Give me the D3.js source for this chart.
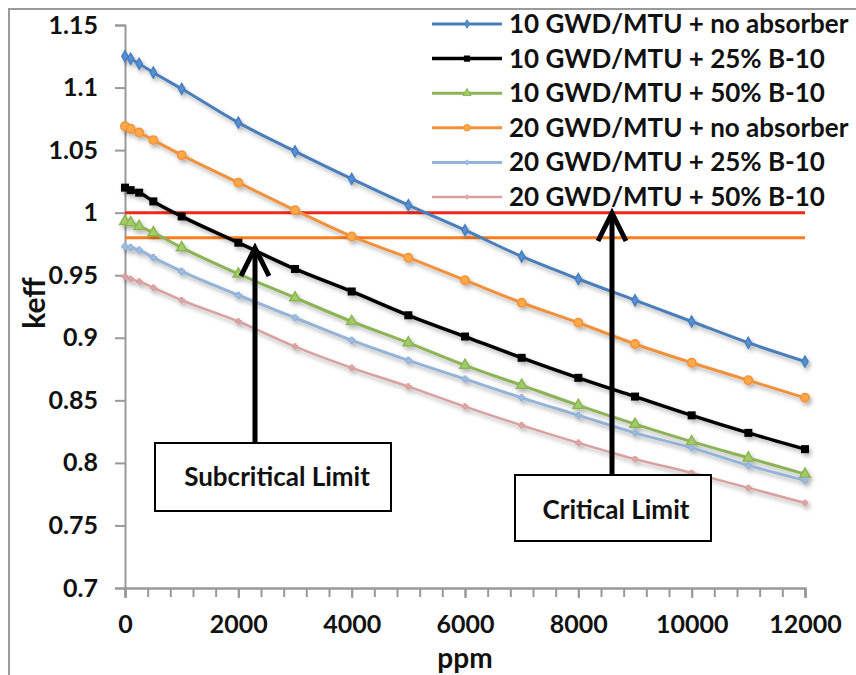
<!DOCTYPE html>
<html>
<head>
<meta charset="utf-8">
<script src="https://cdn.jsdelivr.net/npm/d3@7"></script>
<style>
  body { margin: 0; background: #fff; }
  svg text { font-family: Lato, "Open Sans", sans-serif; font-weight: 700; fill: #111; }
</style>
</head>
<body>
<div class="svg-container"></div>
<script>
// ppm values (x) shared by all series
const ppm = [0, 100, 250, 500, 1000, 2000, 3000, 4000, 5000, 6000, 7000, 8000, 9000, 10000, 11000, 12000];

// keff per series
const gwd10None = [1.125, 1.123, 1.119, 1.112, 1.099, 1.072, 1.049, 1.027, 1.006, 0.986, 0.965, 0.947, 0.930, 0.913, 0.896, 0.881];
const gwd10B25  = [1.020, 1.018, 1.016, 1.009, 0.997, 0.976, 0.955, 0.937, 0.918, 0.901, 0.884, 0.868, 0.853, 0.838, 0.824, 0.811];
const gwd10B50  = [0.993, 0.992, 0.989, 0.984, 0.972, 0.951, 0.932, 0.913, 0.896, 0.878, 0.862, 0.846, 0.831, 0.817, 0.804, 0.791];
const gwd20None = [1.069, 1.067, 1.064, 1.058, 1.046, 1.024, 1.002, 0.981, 0.964, 0.946, 0.928, 0.912, 0.895, 0.880, 0.866, 0.852];
const gwd20B25  = [0.973, 0.972, 0.970, 0.964, 0.953, 0.934, 0.916, 0.898, 0.882, 0.867, 0.852, 0.838, 0.824, 0.812, 0.798, 0.786];
const gwd20B50  = [0.949, 0.947, 0.945, 0.940, 0.930, 0.913, 0.893, 0.876, 0.861, 0.845, 0.830, 0.816, 0.803, 0.792, 0.780, 0.768];

const seriesNames = [
  '10 GWD/MTU + no absorber',
  '10 GWD/MTU + 25% B-10',
  '10 GWD/MTU + 50% B-10',
  '20 GWD/MTU + no absorber',
  '20 GWD/MTU + 25% B-10',
  '20 GWD/MTU + 50% B-10'
];

const yTicks = [0.7, 0.75, 0.8, 0.85, 0.9, 0.95, 1, 1.05, 1.1, 1.15];
const xTicks = [0, 2000, 4000, 6000, 8000, 10000, 12000];

// limit lines
const criticalLimit = 1.0;
const subcriticalLimit = 0.98;

const seriesValues = [gwd10None, gwd10B25, gwd10B50, gwd20None, gwd20B25, gwd20B50];
const colors = ['#4a7ebb', '#000000', '#8cb356', '#f0923c', '#95b3d7', '#d9a0a0'];
const widths = [3, 3.5, 3, 3, 3, 2.5];
const symbols = [d3.symbolDiamond, d3.symbolSquare, d3.symbolTriangle, d3.symbolCircle, d3.symbolCross, d3.symbolCross];
const symSizes = [34, 64, 48, 56, 18, 14];

const W = 856, H = 675;
const svg = d3.select('.svg-container').append('svg')
  .attr('width', W).attr('height', H);

const defs = svg.append('defs');
const shadow = defs.append('filter').attr('id', 'shadow')
  .attr('x', '-10%').attr('y', '-10%').attr('width', '130%').attr('height', '140%');
shadow.append('feDropShadow')
  .attr('dx', 2).attr('dy', 3).attr('stdDeviation', 2)
  .attr('flood-color', '#000').attr('flood-opacity', 0.3);

// chart area border
svg.append('path')
  .attr('d', 'M9,676 L9,9 L857,9')
  .attr('fill', 'none').attr('stroke', '#9a9a9a').attr('stroke-width', 2);

const xScale = d3.scaleLinear().domain([0, 12000]).range([125, 805]);
const yScale = d3.scaleLinear().domain([0.7, 1.15]).range([588, 25]);

// axes
const yAxis = d3.axisLeft(yScale).tickValues(yTicks).tickSize(10).tickPadding(17)
  .tickFormat(d => String(+d.toFixed(2)));
const yAxisDraw = svg.append('g')
  .attr('class', 'y axis')
  .attr('transform', 'translate(125,0)')
  .call(yAxis);
yAxisDraw.selectAll('text').style('font-size', '25px');

const xMinor = d3.range(0, 12001, 400);
svg.append('g')
  .attr('class', 'x axis minor')
  .attr('transform', 'translate(0,588)')
  .call(d3.axisBottom(xScale).tickValues(xMinor).tickSize(9).tickFormat(''));

const xAxisDraw = svg.append('g')
  .attr('class', 'x axis')
  .attr('transform', 'translate(0,588)')
  .call(d3.axisBottom(xScale).tickValues(xTicks).tickSize(10).tickPadding(17).tickFormat(d3.format('d')));
xAxisDraw.selectAll('text').style('font-size', '25px');

svg.selectAll('.axis path.domain').attr('stroke', '#999').attr('stroke-width', 2);
svg.selectAll('.axis .tick line').attr('stroke', '#999').attr('stroke-width', 2);

// axis titles
svg.append('text')
  .attr('x', 465).attr('y', 668)
  .attr('text-anchor', 'middle')
  .style('font-size', '28px')
  .text('ppm');

svg.append('text')
  .attr('transform', 'translate(45,303) rotate(-90)')
  .attr('text-anchor', 'middle')
  .style('font-size', '30px')
  .text('keff');

// limit lines
svg.append('line')
  .attr('x1', xScale(0)).attr('x2', xScale(12000))
  .attr('y1', yScale(criticalLimit)).attr('y2', yScale(criticalLimit))
  .attr('stroke', '#ee2a1a').attr('stroke-width', 3);
svg.append('line')
  .attr('x1', xScale(0)).attr('x2', xScale(12000))
  .attr('y1', yScale(subcriticalLimit)).attr('y2', yScale(subcriticalLimit))
  .attr('stroke', '#fb7d1c').attr('stroke-width', 3);

// series
const line = d3.line().x(d => xScale(d.x)).y(d => yScale(d.y)).curve(d3.curveMonotoneX);

const seriesG = svg.append('g').attr('class', 'series').attr('filter', 'url(#shadow)');
seriesValues.forEach((vals, i) => {
  const pts = ppm.map((x, j) => ({ x: x, y: vals[j] }));
  const g = seriesG.append('g');
  g.append('path')
    .datum(pts)
    .attr('d', line)
    .attr('fill', 'none')
    .attr('stroke', colors[i])
    .attr('stroke-width', widths[i]);
  g.selectAll('path.marker')
    .data(pts)
    .enter()
    .append('path')
    .attr('class', 'marker')
    .attr('transform', d => `translate(${xScale(d.x)},${yScale(d.y)})`)
    .attr('d', d3.symbol().type(symbols[i]).size(symSizes[i]))
    .attr('fill', i === 1 ? '#000' : d3.color(colors[i]).brighter(0.4))
    .attr('stroke', colors[i])
    .attr('stroke-width', i === 1 ? 0 : 1.5);
});

// legend
const legend = svg.append('g').attr('class', 'legend');
seriesNames.forEach((name, i) => {
  const y = 24 + i * 34.6;
  legend.append('line')
    .attr('x1', 432).attr('x2', 502).attr('y1', y).attr('y2', y)
    .attr('stroke', colors[i]).attr('stroke-width', widths[i]);
  legend.append('path')
    .attr('transform', `translate(467,${y})`)
    .attr('d', d3.symbol().type(symbols[i]).size(symSizes[i] * 0.6))
    .attr('fill', i === 1 ? '#000' : d3.color(colors[i]).brighter(0.4))
    .attr('stroke', colors[i]).attr('stroke-width', i === 1 ? 0 : 1);
  legend.append('text')
    .attr('x', 509).attr('y', y + 9)
    .style('font-size', '26px')
    .text(name);
});

// annotation arrows + boxes
function arrow(x, yTop, yBottom) {
  svg.append('line')
    .attr('x1', x).attr('x2', x).attr('y1', yTop + 2).attr('y2', yBottom)
    .attr('stroke', '#000').attr('stroke-width', 5);
  svg.append('path')
    .attr('d', `M${x - 14},${yTop + 30} L${x},${yTop + 2} L${x + 14},${yTop + 30}`)
    .attr('fill', 'none').attr('stroke', '#000').attr('stroke-width', 5)
    .attr('stroke-linejoin', 'miter');
}
function labelBox(x0, y0, x1, y1, text, tx, ty) {
  svg.append('rect')
    .attr('x', x0).attr('y', y0).attr('width', x1 - x0).attr('height', y1 - y0)
    .attr('fill', '#fff').attr('stroke', '#000').attr('stroke-width', 2);
  svg.append('text')
    .attr('x', tx).attr('y', ty)
    .attr('text-anchor', 'middle')
    .style('font-size', '26px')
    .text(text);
}

arrow(255, 246, 443);
labelBox(155, 443, 391, 511, 'Subcritical Limit', 277, 486);

arrow(612, 211, 475);
labelBox(515, 475, 711, 541, 'Critical Limit', 616, 519);
</script>
</body>
</html>
